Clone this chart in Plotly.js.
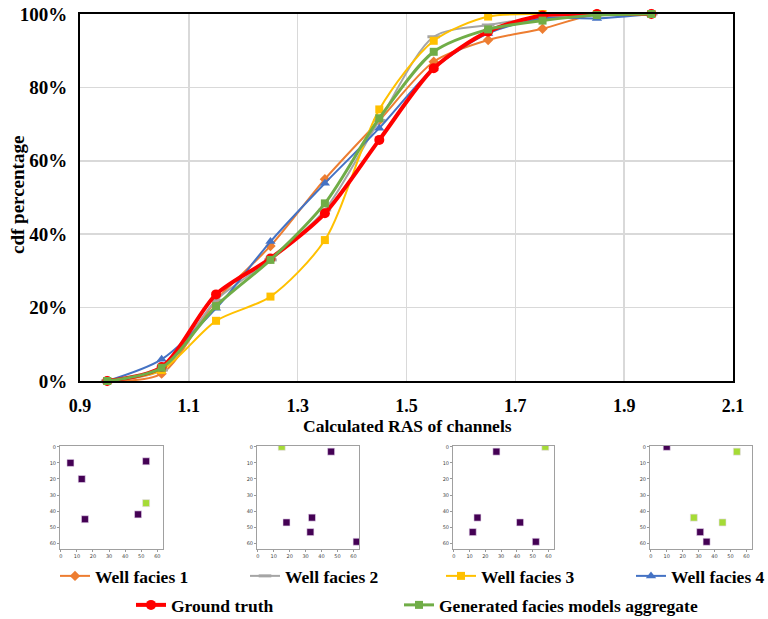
<!DOCTYPE html>
<html>
<head>
<meta charset="utf-8">
<script src="https://cdn.plot.ly/plotly-3.0.1.min.js"></script>
<style>html,body{margin:0;padding:0;background:#fff;}#chart{width:768px;height:619px;}</style>
</head>
<body>
<div id="chart"></div>
<script>
// ---- main chart data ----
const rasBins = [0.95, 1.05, 1.15, 1.25, 1.35, 1.45, 1.55, 1.65, 1.75, 1.85, 1.95];
const wellFacies1 = [0, 2, 22, 36.8, 55, 71, 87, 92.9, 96, 100, 100];
const wellFacies2 = [0, 3, 22, 33, 46.6, 71, 93.8, 97, 99, 100, 100];
const wellFacies3 = [0, 3, 16.4, 23, 38.4, 74, 92.7, 99.3, 100, 100, 100];
const wellFacies4 = [0, 5.9, 19.8, 38, 53.9, 68.9, 85.2, 94.7, 98.8, 98.8, 100];
const groundTruth = [0, 3.8, 23.6, 33.4, 45.7, 65.7, 85.2, 95.2, 99.6, 100, 100];
const generatedAggregate = [0, 3.6, 20.4, 33, 48.4, 71.6, 89.7, 95.8, 98.2, 99.7, 100];
const seriesNames = ['Well facies 1', 'Well facies 2', 'Well facies 3', 'Well facies 4', 'Ground truth', 'Generated facies models aggregate'];
const xTickLabels = ['0.9', '1.1', '1.3', '1.5', '1.7', '1.9', '2.1'];
const yTickLabels = ['0%', '20%', '40%', '60%', '80%', '100%'];
const xTitle = 'Calculated RAS of channels';
const yTitle = 'cdf percentage';

// ---- well location maps (x column, y row, class: 0 = purple, 1 = green) ----
const map1X = [6, 13, 15, 48, 53, 53];
const map1Y = [10, 20, 45, 42, 9, 35];
const map1C = [0, 0, 0, 0, 0, 1];
const map2X = [15, 46, 18, 34, 33, 62];
const map2Y = [0, 3, 47, 44, 53, 59];
const map2C = [1, 0, 0, 0, 0, 0];
const map3X = [27, 58, 15, 12, 42, 52];
const map3Y = [3, 0, 44, 53, 47, 59];
const map3C = [0, 1, 0, 0, 0, 0];
const map4X = [10, 54, 27, 45, 31, 35];
const map4Y = [0, 3, 44, 47, 53, 59];
const map4C = [0, 1, 1, 1, 0, 0];
const mapTicks = [0, 10, 20, 30, 40, 50, 60];

const serif = 'Liberation Serif, Times New Roman, serif';
const styles = [
  {color: '#ED7D31', width: 2, symbol: 'diamond', size: 8},
  {color: '#A5A5A5', width: 2, symbol: 'line-ew', size: 9},
  {color: '#FFC000', width: 2, symbol: 'square', size: 8},
  {color: '#4472C4', width: 2, symbol: 'triangle-up', size: 9},
  {color: '#FF0000', width: 4, symbol: 'circle', size: 10},
  {color: '#70AD47', width: 3, symbol: 'square', size: 8}
];
const seriesValues = [wellFacies1, wellFacies2, wellFacies3, wellFacies4, groundTruth, generatedAggregate];
const legendIds = ['legend', 'legend2', 'legend3', 'legend4', 'legend5', 'legend6'];

const traces = seriesValues.map((vals, i) => {
  const s = styles[i];
  return {
    type: 'scatter', mode: 'lines+markers', x: rasBins, y: vals, name: seriesNames[i],
    xaxis: 'x', yaxis: 'y', legend: legendIds[i], cliponaxis: false,
    line: {color: s.color, width: s.width, shape: 'spline', smoothing: 0.8},
    marker: {color: s.color, symbol: s.symbol, size: s.size, line: {color: s.color, width: s.symbol === 'line-ew' ? 3 : 0}},
    hoverinfo: 'x+y'
  };
});

const classColors = ['#440154', '#A5DB36'];
const maps = [[map1X, map1Y, map1C], [map2X, map2Y, map2C], [map3X, map3Y, map3C], [map4X, map4Y, map4C]];
maps.forEach((m, i) => {
  const n = i + 2;
  traces.push({
    type: 'scatter', mode: 'markers', x: m[0], y: m[1], showlegend: false,
    xaxis: 'x' + n, yaxis: 'y' + n, cliponaxis: true,
    marker: {symbol: 'square', size: 7, color: m[2].map(c => classColors[c]), line: {color: '#e8d8ee', width: 0.6}},
    hoverinfo: 'x+y'
  });
});

const layout = {
  width: 768, height: 619,
  margin: {l: 0, r: 0, t: 0, b: 0, autoexpand: false},
  paper_bgcolor: '#fff', plot_bgcolor: '#fff',
  font: {family: serif, color: '#000'},
  showlegend: true,
  xaxis: {
    domain: [80/768, 733/768], anchor: 'y',
    range: [0.9, 2.1], tickvals: xTickLabels.map(Number), ticktext: xTickLabels,
    showgrid: true, gridcolor: '#D9D9D9', gridwidth: 1.5,
    showline: true, mirror: true, linecolor: '#000', linewidth: 2,
    zeroline: false, ticks: '', ticklabelstandoff: 7,
    tickfont: {family: serif, size: 18, weight: 'bold', color: '#000'}
  },
  yaxis: {
    domain: [1 - 381/619, 1 - 14/619], anchor: 'x',
    range: [0, 100], tickvals: yTickLabels.map(t => parseFloat(t)), ticktext: yTickLabels,
    showgrid: true, gridcolor: '#D9D9D9', gridwidth: 1.5,
    showline: true, mirror: true, linecolor: '#000', linewidth: 2,
    zeroline: false, ticks: '', ticklabelstandoff: 7,
    tickfont: {family: serif, size: 19, weight: 'bold', color: '#000'}
  },
  annotations: [
    {text: xTitle, xref: 'paper', yref: 'paper', x: 407/768, y: 1 - 426/619, xanchor: 'center', yanchor: 'middle',
     showarrow: false, font: {family: serif, size: 17.5, weight: 'bold', color: '#000'}},
    {text: yTitle, xref: 'paper', yref: 'paper', x: 17/768, y: 1 - 195/619, xanchor: 'center', yanchor: 'middle',
     textangle: -90, showarrow: false, font: {family: serif, size: 19, weight: 'bold', color: '#000'}}
  ]
};

// legend placements: [left x of legend box, centre y]
const legendPlaces = [[55, 576], [245, 576], [441, 576], [631, 576], [131, 605], [399, 605]];
legendIds.forEach((id, i) => {
  layout[id] = {
    orientation: 'h', x: legendPlaces[i][0]/768, xanchor: 'left', y: 1 - legendPlaces[i][1]/619, yanchor: 'middle',
    bgcolor: 'rgba(0,0,0,0)', borderwidth: 0,
    font: {family: serif, size: 17.5, weight: 'bold', color: '#000'}
  };
});

const mapDomains = [[60, 163], [257, 359], [453, 554], [650, 752]];
mapDomains.forEach((d, i) => {
  const n = i + 2;
  const common = {
    tickvals: mapTicks, showgrid: false, zeroline: false,
    showline: true, mirror: true, linecolor: '#A0A0A0', linewidth: 1,
    ticks: 'outside', ticklen: 2, tickcolor: '#555', tickwidth: 0.6,
    tickfont: {family: 'DejaVu Sans, sans-serif', size: 5, color: '#444'}
  };
  layout['xaxis' + n] = Object.assign({}, common, {domain: [d[0]/768, d[1]/768], anchor: 'y' + n, range: [-0.5, 63.5]});
  layout['yaxis' + n] = Object.assign({}, common, {domain: [1 - 549/619, 1 - 446/619], anchor: 'x' + n, range: [63.5, -0.5]});
});

Plotly.newPlot('chart', traces, layout, {displayModeBar: false, staticPlot: true});
</script>
</body>
</html>
